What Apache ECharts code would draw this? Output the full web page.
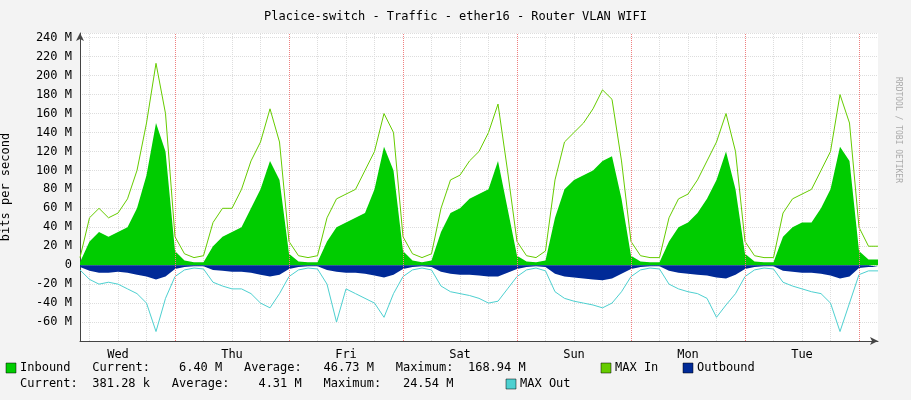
<!DOCTYPE html>
<html><head><meta charset="utf-8">
<script src="https://cdn.jsdelivr.net/npm/echarts@6/dist/echarts.min.js"></script>
<style>html,body{margin:0;background:#f3f3f3}#c{width:911px;height:400px}</style>
</head><body><div id="c"></div>
<script>
const dayNames=['Wed','Thu','Fri','Sat','Sun','Mon','Tue'];
const hours=[];for(let h=4;h<=172;h+=2)hours.push(h);
const inbound=[3,25,35,30,35,40,60,95,150,120,
15,5,3,3,20,30,35,40,60,80,110,90,
12,4,3,3,25,40,45,50,55,80,125,100,
15,5,3,5,35,55,60,70,75,80,110,60,
10,4,3,5,50,80,90,95,100,110,115,70,
10,4,3,3,25,40,45,55,70,90,120,80,
12,4,3,3,30,40,45,45,60,80,125,110,
15,6,6];
const maxIn=[8,50,60,50,55,70,100,150,213,160,
30,12,8,10,45,60,60,80,110,130,165,130,
25,10,8,10,50,70,75,80,100,120,160,140,
30,12,8,12,60,90,95,110,120,140,170,100,
25,10,8,15,90,130,140,150,165,185,175,110,
25,10,8,8,50,70,75,90,110,130,160,120,
25,10,8,8,55,70,75,80,100,120,180,150,
40,20,20];
const outbound=[-2,-6,-8,-8,-7,-8,-10,-12,-15,-12,
-4,-2,-1,-1,-5,-6,-7,-7,-8,-10,-12,-10,
-4,-2,-1,-1,-5,-7,-8,-8,-9,-11,-13,-10,
-4,-2,-1,-2,-7,-9,-10,-10,-11,-12,-12,-8,
-4,-2,-1,-2,-9,-12,-13,-14,-15,-16,-14,-9,
-4,-2,-1,-1,-6,-8,-9,-10,-11,-13,-14,-10,
-4,-2,-1,-1,-6,-7,-8,-8,-9,-11,-14,-12,
-3,-2,-2];
const maxOut=[-5,-15,-20,-18,-20,-25,-30,-40,-70,-35,
-12,-5,-3,-4,-18,-22,-25,-25,-30,-40,-45,-30,
-12,-5,-3,-4,-20,-60,-25,-30,-35,-40,-55,-30,
-12,-5,-3,-5,-22,-28,-30,-32,-35,-40,-38,-25,
-12,-5,-3,-6,-28,-35,-38,-40,-42,-45,-40,-28,
-12,-5,-3,-4,-20,-25,-28,-30,-35,-55,-42,-30,
-12,-5,-3,-4,-18,-22,-25,-28,-30,-40,-70,-40,
-10,-6,-6];
const yTicks=[-60,-40,-20,0,20,40,60,80,100,120,140,160,180,200,220,240];
const pair=a=>hours.map((h,i)=>[h,a[i]]);
const mono='DejaVu Sans Mono';
const dayLines=[24,48,72,96,120,144,168].map(x=>({xAxis:x}));
const sixLines=[];for(let h=6;h<172;h+=6)if(h%24)sixLines.push({xAxis:h});
const ch=echarts.init(document.getElementById('c'));
const legY1=368,legY2=384;
function sq(x,y,c){return {type:'rect',shape:{x:x,y:y-5,width:10,height:10},style:{fill:c,stroke:'#000',lineWidth:0.5}};}
function tx(x,y,t){return {type:'text',x:x,y:y,style:{text:t,font:'12px '+mono,fill:'#000',verticalAlign:'middle'}};}
ch.setOption({
 backgroundColor:'#f3f3f3',animation:false,
 title:{text:'Placice-switch - Traffic - ether16 - Router VLAN WIFI',left:'center',top:6,textStyle:{fontFamily:mono,fontSize:12,fontWeight:'normal',color:'#000'}},
 grid:{left:80,right:33,top:33,bottom:59,backgroundColor:'#fff',show:true,borderWidth:0,outerBoundsMode:'none'},
 xAxis:{type:'value',min:4,max:172,interval:2,
  axisLine:{onZero:false,lineStyle:{color:'#444'},symbol:['none','arrow'],symbolSize:[6,8]},
  axisTick:{show:false},splitLine:{show:false},
  axisLabel:{interval:0,hideOverlap:false,fontFamily:mono,fontSize:12,color:'#000',formatter:v=>v%24===12?dayNames[(v-12)/24]:''}},
 yAxis:{type:'value',min:-80,max:245,interval:20,
  axisLine:{show:true,lineStyle:{color:'#444'},symbol:['none','arrow'],symbolSize:[6,8]},
  axisTick:{show:false},splitLine:{lineStyle:{color:'#ddd',type:'dotted'}},
  axisLabel:{showMaxLabel:false,fontFamily:mono,fontSize:12,color:'#000',formatter:v=>yTicks.includes(v)?(v===0?'0':v+' M'):''},
  name:'bits per second',nameLocation:'middle',nameGap:68,nameTextStyle:{fontFamily:mono,fontSize:12,color:'#000'}},
 series:[
  {type:'line',data:pair(inbound),showSymbol:false,lineStyle:{width:0},areaStyle:{color:'#00cc00',opacity:1},z:3,
   markLine:{silent:true,symbol:'none',label:{show:false},lineStyle:{color:'#ddd',type:'dotted',width:1},data:sixLines,z:1}},
  {type:'line',data:pair(outbound),showSymbol:false,lineStyle:{width:0},areaStyle:{color:'#002a97',opacity:1},z:3},
  {type:'line',data:pair(maxIn),showSymbol:false,lineStyle:{width:1,color:'#66cc00'},z:4,
   markLine:{silent:true,symbol:'none',label:{show:false},lineStyle:{color:'#f08080',type:'dotted',width:1},data:dayLines}},
  {type:'line',data:pair(maxOut),showSymbol:false,lineStyle:{width:1,color:'#4dd0d0'},z:4}
 ],
 graphic:[
  sq(6,legY1,'#00cc00'),tx(20,legY1,'Inbound   Current:    6.40 M   Average:   46.73 M   Maximum:  168.94 M'),
  sq(601,legY1,'#66cc00'),tx(615,legY1,'MAX In'),
  sq(683,legY1,'#002a97'),tx(697,legY1,'Outbound'),
  tx(20,legY2,'Current:  381.28 k   Average:    4.31 M   Maximum:   24.54 M'),
  sq(506,legY2,'#4dd0d0'),tx(520,legY2,'MAX Out'),
  {type:'text',x:898,y:130,rotation:-Math.PI/2,style:{text:'RRDTOOL / TOBI OETIKER',font:'8px '+mono,fill:'#aaa',align:'center',verticalAlign:'middle'}}
 ]
});
</script></body></html>
